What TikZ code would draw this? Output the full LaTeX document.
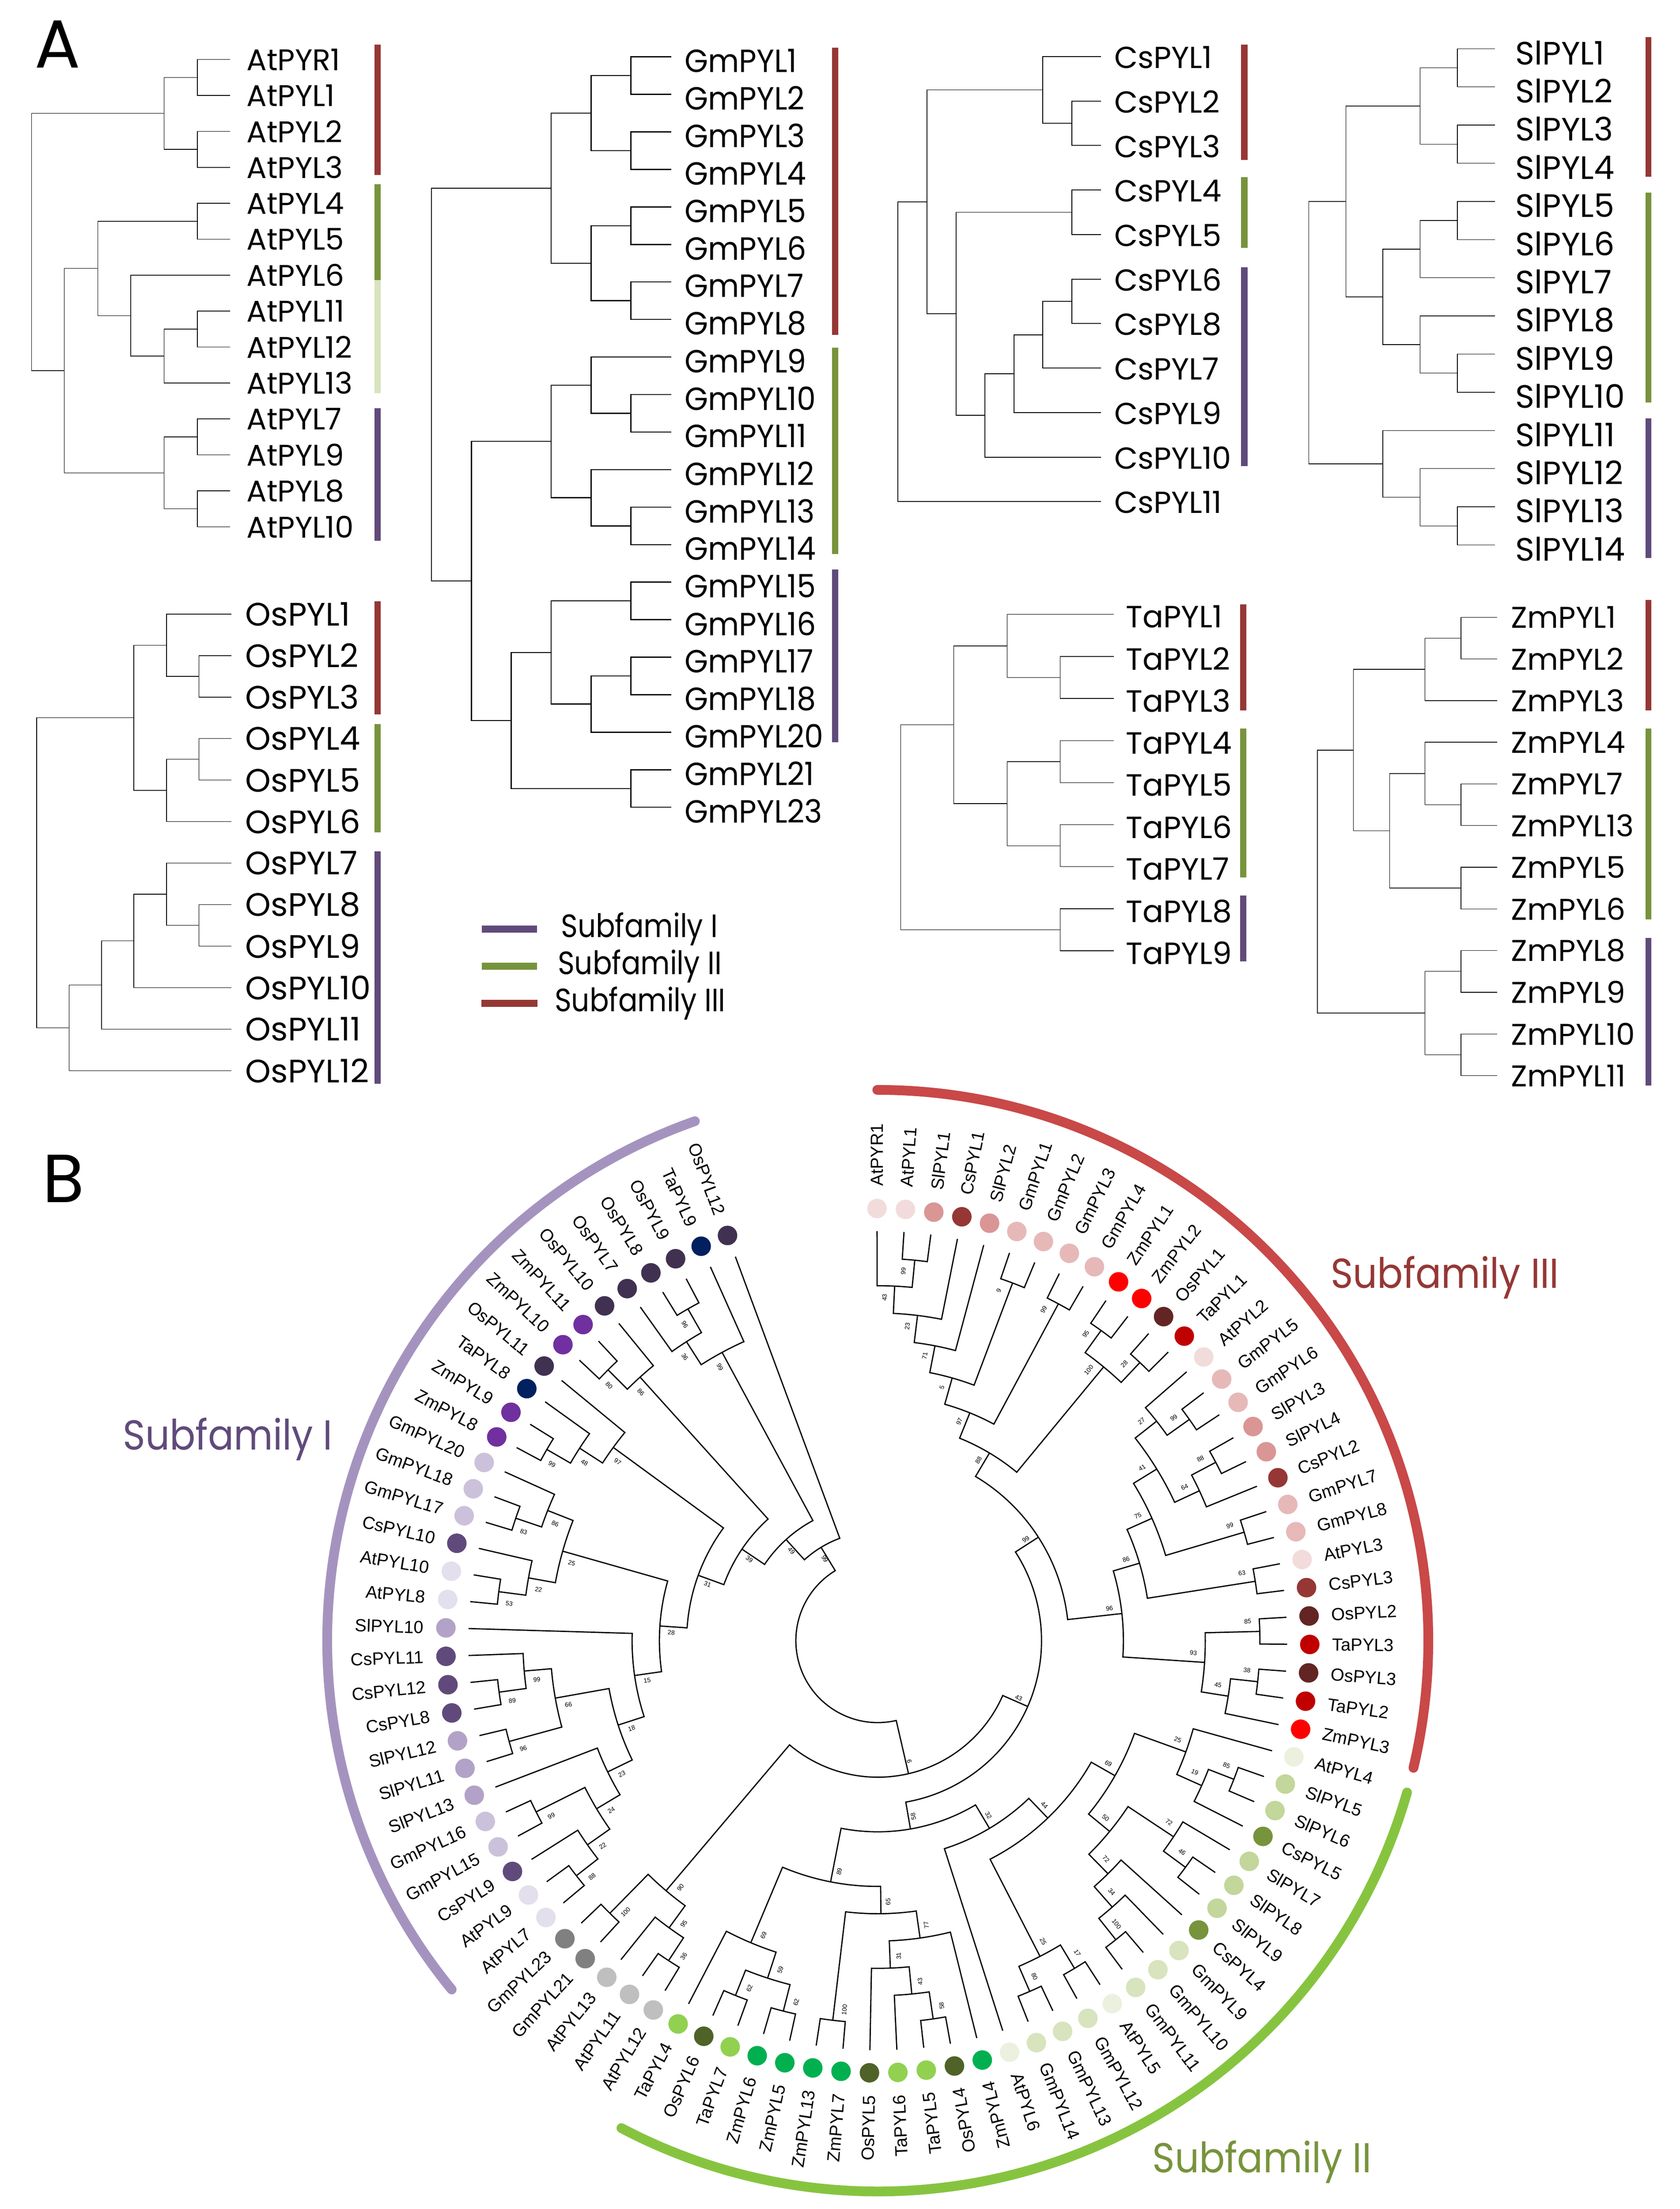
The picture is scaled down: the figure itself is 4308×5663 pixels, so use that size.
\documentclass[tikz,border=0pt]{standalone}
\usepackage{fontspec}
\setmainfont{Liberation Sans}
\newfontfamily\geo{Poppins}
\usetikzlibrary{calc}

% subfamily colours
\definecolor{sfIII}{HTML}{953735}
\definecolor{sfII}{HTML}{77933C}
\definecolor{sfIIb}{HTML}{D7E4BD}
\definecolor{sfI}{HTML}{604A7B}
\definecolor{arcIII}{HTML}{C94848}
\definecolor{arcII}{HTML}{86C440}
\definecolor{arcI}{HTML}{A593BF}
% dot colours of the circular tree
\definecolor{pAt}{HTML}{F2DCDB}
\definecolor{pSl}{HTML}{D99694}
\definecolor{pCs}{HTML}{953735}
\definecolor{pGm}{HTML}{E6B9B8}
\definecolor{pZm}{HTML}{FF0000}
\definecolor{pOs}{HTML}{632523}
\definecolor{pTa}{HTML}{C00000}
\definecolor{gAt}{HTML}{EBF1DE}
\definecolor{gSl}{HTML}{C3D69B}
\definecolor{gCs}{HTML}{77933C}
\definecolor{gGm}{HTML}{D7E4BD}
\definecolor{gZm}{HTML}{00B050}
\definecolor{gOs}{HTML}{4F6228}
\definecolor{gTa}{HTML}{92D050}
\definecolor{yAt}{HTML}{BFBFBF}
\definecolor{yGm}{HTML}{808080}
\definecolor{vAt}{HTML}{E4DFEC}
\definecolor{vCs}{HTML}{604A7B}
\definecolor{vGm}{HTML}{CCC1DA}
\definecolor{vSl}{HTML}{B3A2C7}
\definecolor{vZm}{HTML}{7030A0}
\definecolor{vOs}{HTML}{403151}
\definecolor{vTa}{HTML}{002060}

\tikzset{
  branch/.style={line width=0.5pt},
  bbranch/.style={line width=0.9pt},
  albl/.style={font=\geo},
  tiplbl/.style={font=\fontsize{12.8pt}{13pt}\selectfont, inner sep=0pt},
  bslbl/.style={font=\fontsize{4.6pt}{5pt}\selectfont, inner sep=0pt},
  legtxt/.style={font=\geo\fontsize{23.6pt}{24pt}\selectfont, inner sep=0pt, anchor=base west, xscale=0.88},
  sftxt/.style={font=\geo\fontsize{30.5pt}{31pt}\selectfont, inner sep=0pt, anchor=base west, xscale=0.91},
  sfarc/.style={line width=7.1pt, line cap=round},
  panel/.style={font=\geo\fontsize{49.6pt}{50pt}\selectfont, inner sep=0pt, anchor=base west},
}

% rectangular trees (panel A)
\newcommand\leafA[2]{%
  \coordinate (#1) at (\tipx,#2);
  \node[albl, anchor=west, inner sep=0pt, yshift=-\lshift*0.01cm] (#1-l) at (\lblx,#2) {#1};}
\newcommand\clade[4]{%
  \path ($(#3)!0.5!(#4)$) coordinate (#1-m);
  \coordinate (#1) at (#2,0 |- #1-m);
  \draw[branch] (#3) -| (#1) |- (#4);}
\newcommand\sfbar[5]{\fill[#5] (#1,#3) rectangle (#2,#4);}

% circular tree (panel B)
\newcommand\tipB[3]{%
  \pgfmathsetmacro\bAng{90.1-3.775*#1}%
  \expandafter\xdef\csname ang@L#1\endcsname{\bAng}%
  \coordinate (L#1) at (\bAng:1050);
  \fill[#3] (\bAng:1108) circle[radius=25];
  \ifnum#1<44
    \node[tiplbl, anchor=west, rotate=\bAng] (L#1-l) at (\bAng:1165) {#2};
  \else
    \node[tiplbl, anchor=east, rotate=\bAng+180] (L#1-l) at (\bAng:1165) {#2};
  \fi}
\newcommand\joinB[5]{%
  \pgfmathsetmacro\bAngA{\csname ang@#3\endcsname}%
  \pgfmathsetmacro\bAngB{\csname ang@#4\endcsname}%
  \pgfmathsetmacro\bRad{1050-70*#2}%
  \pgfmathsetmacro\bAng{(\bAngA+\bAngB)/2}%
  \expandafter\xdef\csname ang@#1\endcsname{\bAng}%
  \coordinate (#1) at (\bAng:\bRad);
  \draw[bbranch] (#3) -- (\bAngA:\bRad) arc[start angle=\bAngA, end angle=\bAngB, radius=\bRad] -- (#4);
  \ifx\relax#5\relax\else
    \pgfmathsetmacro\bLa{\bAng+1.6}%
    \pgfmathsetmacro\bLr{\bRad-30}%
    \pgfmathtruncatemacro\bSide{(\bAng>-74)&&(\bAng<90.5)}%
    \ifnum\bSide=1
      \node[bslbl, rotate=\bAng] at (\bLa:\bLr) {#5};
    \else
      \node[bslbl, rotate=\bAng+180] at (\bLa:\bLr) {#5};
    \fi
  \fi}

\begin{document}
\begin{tikzpicture}[x=0.01cm, y=-0.01cm]
\useasboundingbox (0,0) rectangle (4308,5663);
\fill[white] (0,0) rectangle (4308,5663);

\node[panel] (labA) at (88,174) {A};
\node[panel] (labB) at (109,3082) {B};

% ---- At
\begin{scope}[albl/.style={font=\geo\fontsize{21.8pt}{22pt}\selectfont}, branch/.style={line width=0.5pt}]
\def\tipx{590}\def\lblx{632}\def\lshift{0}
\leafA{AtPYR1}{152.5}
\leafA{AtPYL1}{244.65}
\leafA{AtPYL2}{336.8}
\leafA{AtPYL3}{428.95}
\leafA{AtPYL4}{521.1}
\leafA{AtPYL5}{613.25}
\leafA{AtPYL6}{705.4}
\leafA{AtPYL11}{797.55}
\leafA{AtPYL12}{889.7}
\leafA{AtPYL13}{981.85}
\leafA{AtPYL7}{1074}
\leafA{AtPYL9}{1166.15}
\leafA{AtPYL8}{1258.3}
\leafA{AtPYL10}{1350.45}
\clade{at1}{506}{AtPYR1}{AtPYL1}
\clade{at2}{506}{AtPYL2}{AtPYL3}
\clade{at3}{421}{at1}{at2}
\clade{at4}{506}{AtPYL4}{AtPYL5}
\clade{at5}{506}{AtPYL11}{AtPYL12}
\clade{at6}{421}{at5}{AtPYL13}
\clade{at7}{335}{AtPYL6}{at6}
\clade{at8}{251}{at4}{at7}
\clade{at9}{506}{AtPYL7}{AtPYL9}
\clade{at10}{506}{AtPYL8}{AtPYL10}
\clade{at11}{421}{at9}{at10}
\clade{at12}{165}{at8}{at11}
\clade{at13}{81}{at3}{at12}
\sfbar{960}{976}{114}{449}{sfIII}
\sfbar{960}{976}{472}{718}{sfII}
\sfbar{960}{976}{718}{1008}{sfIIb}
\sfbar{960}{976}{1046}{1386}{sfI}
\end{scope}

% ---- Gm
\begin{scope}[albl/.style={font=\geo\fontsize{23.4pt}{24pt}\selectfont, xscale=0.94}, branch/.style={line width=0.8pt}]
\def\tipx{1721.7}\def\lblx{1755}\def\lshift{10}
\leafA{GmPYL1}{145.7}
\leafA{GmPYL2}{241.9}
\leafA{GmPYL3}{338.1}
\leafA{GmPYL4}{434.3}
\leafA{GmPYL5}{530.5}
\leafA{GmPYL6}{626.7}
\leafA{GmPYL7}{722.8}
\leafA{GmPYL8}{819.0}
\leafA{GmPYL9}{915.2}
\leafA{GmPYL10}{1011.4}
\leafA{GmPYL11}{1107.6}
\leafA{GmPYL12}{1203.8}
\leafA{GmPYL13}{1300.0}
\leafA{GmPYL14}{1396.2}
\leafA{GmPYL15}{1492.4}
\leafA{GmPYL16}{1588.6}
\leafA{GmPYL17}{1684.7}
\leafA{GmPYL18}{1780.9}
\leafA{GmPYL20}{1877.1}
\leafA{GmPYL21}{1973.3}
\leafA{GmPYL23}{2069.5}
\clade{gm1}{1618}{GmPYL1}{GmPYL2}
\clade{gm2}{1618}{GmPYL3}{GmPYL4}
\clade{gm3}{1516}{gm1}{gm2}
\clade{gm4}{1618}{GmPYL5}{GmPYL6}
\clade{gm5}{1618}{GmPYL7}{GmPYL8}
\clade{gm6}{1516}{gm4}{gm5}
\clade{gm7}{1413.6}{gm3}{gm6}
\clade{gm8}{1618}{GmPYL10}{GmPYL11}
\clade{gm9}{1516}{GmPYL9}{gm8}
\clade{gm10}{1618}{GmPYL13}{GmPYL14}
\clade{gm11}{1516}{GmPYL12}{gm10}
\clade{gm12}{1413.6}{gm9}{gm11}
\clade{gm13}{1618}{GmPYL15}{GmPYL16}
\clade{gm14}{1618}{GmPYL17}{GmPYL18}
\clade{gm15}{1516}{gm14}{GmPYL20}
\clade{gm16}{1413.6}{gm13}{gm15}
\clade{gm17}{1618}{GmPYL21}{GmPYL23}
\clade{gm18}{1311}{gm16}{gm17}
\clade{gm19}{1209}{gm12}{gm18}
\clade{gm20}{1106.8}{gm7}{gm19}
\sfbar{2134}{2150}{122}{859}{sfIII}
\sfbar{2134}{2150}{891}{1420}{sfII}
\sfbar{2134}{2150}{1460}{1903}{sfI}
\end{scope}

% ---- Cs
\begin{scope}[albl/.style={font=\geo\fontsize{22.2pt}{22pt}\selectfont}, branch/.style={line width=0.6pt}]
\def\tipx{2824}\def\lblx{2857}\def\lshift{2}
\leafA{CsPYL1}{144.9}
\leafA{CsPYL2}{259.0}
\leafA{CsPYL3}{373.1}
\leafA{CsPYL4}{487.2}
\leafA{CsPYL5}{601.3}
\leafA{CsPYL6}{715.4}
\leafA{CsPYL8}{829.5}
\leafA{CsPYL7}{943.6}
\leafA{CsPYL9}{1057.7}
\leafA{CsPYL10}{1171.8}
\leafA{CsPYL11}{1285.9}
\clade{cs1}{2749}{CsPYL2}{CsPYL3}
\clade{cs2}{2674.5}{CsPYL1}{cs1}
\clade{cs3}{2749}{CsPYL4}{CsPYL5}
\clade{cs4}{2749}{CsPYL6}{CsPYL8}
\clade{cs5}{2674.5}{cs4}{CsPYL7}
\clade{cs6}{2600}{cs5}{CsPYL9}
\clade{cs7}{2526}{cs6}{CsPYL10}
\clade{cs8}{2451.7}{cs3}{cs7}
\clade{cs9}{2377}{cs2}{cs8}
\clade{cs10}{2302.8}{cs9}{CsPYL11}
\sfbar{3182}{3199}{114.5}{410}{sfIII}
\sfbar{3182}{3199}{454}{635}{sfII}
\sfbar{3182}{3199}{685}{1195}{sfI}
\end{scope}

% ---- Sl
\begin{scope}[albl/.style={font=\geo\fontsize{23.6pt}{24pt}\selectfont}, branch/.style={line width=0.45pt}]
\def\tipx{3833.5}\def\lblx{3886}\def\lshift{10}
\leafA{SlPYL1}{125}
\leafA{SlPYL2}{222.85}
\leafA{SlPYL3}{320.7}
\leafA{SlPYL4}{418.55}
\leafA{SlPYL5}{516.4}
\leafA{SlPYL6}{614.25}
\leafA{SlPYL7}{712.1}
\leafA{SlPYL8}{809.95}
\leafA{SlPYL9}{907.8}
\leafA{SlPYL10}{1005.65}
\leafA{SlPYL11}{1103.5}
\leafA{SlPYL12}{1201.35}
\leafA{SlPYL13}{1299.2}
\leafA{SlPYL14}{1397.05}
\clade{sl1}{3737.5}{SlPYL1}{SlPYL2}
\clade{sl2}{3737.5}{SlPYL3}{SlPYL4}
\clade{sl3}{3642}{sl1}{sl2}
\clade{sl4}{3737.5}{SlPYL5}{SlPYL6}
\clade{sl5}{3642}{sl4}{SlPYL7}
\clade{sl6}{3737.5}{SlPYL9}{SlPYL10}
\clade{sl7}{3642}{SlPYL8}{sl6}
\clade{sl8}{3546}{sl5}{sl7}
\clade{sl9}{3451.4}{sl3}{sl8}
\clade{sl10}{3737.5}{SlPYL13}{SlPYL14}
\clade{sl11}{3642}{SlPYL12}{sl10}
\clade{sl12}{3546}{SlPYL11}{sl11}
\clade{sl13}{3356.6}{sl9}{sl12}
\sfbar{4220}{4235}{95}{453}{sfIII}
\sfbar{4220}{4235}{494}{1032}{sfII}
\sfbar{4220}{4235}{1072}{1430}{sfI}
\end{scope}

% ---- Os
\begin{scope}[albl/.style={font=\geo\fontsize{23.7pt}{24pt}\selectfont}, branch/.style={line width=0.45pt}]
\def\tipx{593}\def\lblx{629}\def\lshift{0}
\leafA{OsPYL1}{1574.2}
\leafA{OsPYL2}{1680.6}
\leafA{OsPYL3}{1787.0}
\leafA{OsPYL4}{1893.4}
\leafA{OsPYL5}{1999.8}
\leafA{OsPYL6}{2106.2}
\leafA{OsPYL7}{2212.6}
\leafA{OsPYL8}{2319.0}
\leafA{OsPYL9}{2425.4}
\leafA{OsPYL10}{2531.8}
\leafA{OsPYL11}{2638.2}
\leafA{OsPYL12}{2744.6}
\clade{os1}{510}{OsPYL2}{OsPYL3}
\clade{os2}{426.8}{OsPYL1}{os1}
\clade{os3}{510}{OsPYL4}{OsPYL5}
\clade{os4}{426.8}{os3}{OsPYL6}
\clade{os5}{343}{os2}{os4}
\clade{os6}{510}{OsPYL8}{OsPYL9}
\clade{os7}{426.8}{OsPYL7}{os6}
\clade{os8}{343}{os7}{OsPYL10}
\clade{os9}{260.6}{os8}{OsPYL11}
\clade{os10}{177}{os9}{OsPYL12}
\clade{os11}{93.8}{os5}{os10}
\sfbar{960}{976}{1542}{1831}{sfIII}
\sfbar{960}{976}{1856}{2134}{sfII}
\sfbar{960}{976}{2183}{2778}{sfI}
\end{scope}

% ---- Ta
\begin{scope}[albl/.style={font=\geo\fontsize{22.4pt}{22pt}\selectfont}, branch/.style={line width=0.45pt}]
\def\tipx{2856}\def\lblx{2887}\def\lshift{6}
\leafA{TaPYL1}{1575.1}
\leafA{TaPYL2}{1682.9}
\leafA{TaPYL3}{1790.7}
\leafA{TaPYL4}{1898.5}
\leafA{TaPYL5}{2006.3}
\leafA{TaPYL6}{2114.1}
\leafA{TaPYL7}{2221.9}
\leafA{TaPYL8}{2329.7}
\leafA{TaPYL9}{2437.5}
\clade{ta1}{2719}{TaPYL2}{TaPYL3}
\clade{ta2}{2583}{TaPYL1}{ta1}
\clade{ta3}{2719}{TaPYL4}{TaPYL5}
\clade{ta4}{2719}{TaPYL6}{TaPYL7}
\clade{ta5}{2583}{ta3}{ta4}
\clade{ta6}{2446}{ta2}{ta5}
\clade{ta7}{2719}{TaPYL8}{TaPYL9}
\clade{ta8}{2310}{ta6}{ta7}
\sfbar{3180}{3196}{1549}{1821}{sfIII}
\sfbar{3180}{3196}{1868}{2249}{sfII}
\sfbar{3180}{3196}{2296}{2465}{sfI}
\end{scope}

% ---- Zm
\begin{scope}[albl/.style={font=\geo\fontsize{21.9pt}{22pt}\selectfont}, branch/.style={line width=0.45pt}]
\def\tipx{3839}\def\lblx{3875}\def\lshift{0}
\leafA{ZmPYL1}{1582.5}
\leafA{ZmPYL2}{1689.3}
\leafA{ZmPYL3}{1796.1}
\leafA{ZmPYL4}{1902.9}
\leafA{ZmPYL7}{2009.7}
\leafA{ZmPYL13}{2116.5}
\leafA{ZmPYL5}{2223.3}
\leafA{ZmPYL6}{2330.1}
\leafA{ZmPYL8}{2436.9}
\leafA{ZmPYL9}{2543.7}
\leafA{ZmPYL10}{2650.5}
\leafA{ZmPYL11}{2757.3}
\clade{zm1}{3746.7}{ZmPYL1}{ZmPYL2}
\clade{zm2}{3654.6}{zm1}{ZmPYL3}
\clade{zm3}{3746.7}{ZmPYL7}{ZmPYL13}
\clade{zm4}{3654.6}{ZmPYL4}{zm3}
\clade{zm5}{3746.7}{ZmPYL5}{ZmPYL6}
\clade{zm6}{3563.6}{zm4}{zm5}
\clade{zm7}{3470.8}{zm2}{zm6}
\clade{zm8}{3746.7}{ZmPYL8}{ZmPYL9}
\clade{zm9}{3746.7}{ZmPYL10}{ZmPYL11}
\clade{zm10}{3654.6}{zm8}{zm9}
\clade{zm11}{3378.7}{zm7}{zm10}
\sfbar{4220}{4235}{1538}{1821}{sfIII}
\sfbar{4220}{4235}{1868}{2357}{sfII}
\sfbar{4220}{4235}{2404}{2783}{sfI}
\end{scope}

% ---- legend
\fill[sfI] (1236,2373) rectangle (1377,2391);
\fill[sfII] (1236,2468) rectangle (1377,2486);
\fill[sfIII] (1235,2563) rectangle (1378,2581);
\node[legtxt] (leg1) at (1438,2403) {Subfamily I};
\node[legtxt] (leg2) at (1430,2498) {Subfamily II};
\node[legtxt] (leg3) at (1422,2593) {Subfamily III};

% ---- circular tree
\begin{scope}[shift={(2251,4206)}, yscale=-1]
\draw[sfarc, arcIII] (90.05:1412) arc[start angle=90.05, end angle=-13.35, radius=1412];
\draw[sfarc, arcII] (-16:1412) arc[start angle=-16, end angle=-117.75, radius=1412];
\draw[sfarc, arcI] (219.3:1412) arc[start angle=219.3, end angle=109.4, radius=1412];

\tipB{0}{AtPYR1}{pAt}
\tipB{1}{AtPYL1}{pAt}
\tipB{2}{SlPYL1}{pSl}
\tipB{3}{CsPYL1}{pCs}
\tipB{4}{SlPYL2}{pSl}
\tipB{5}{GmPYL1}{pGm}
\tipB{6}{GmPYL2}{pGm}
\tipB{7}{GmPYL3}{pGm}
\tipB{8}{GmPYL4}{pGm}
\tipB{9}{ZmPYL1}{pZm}
\tipB{10}{ZmPYL2}{pZm}
\tipB{11}{OsPYL1}{pOs}
\tipB{12}{TaPYL1}{pTa}
\tipB{13}{AtPYL2}{pAt}
\tipB{14}{GmPYL5}{pGm}
\tipB{15}{GmPYL6}{pGm}
\tipB{16}{SlPYL3}{pSl}
\tipB{17}{SlPYL4}{pSl}
\tipB{18}{CsPYL2}{pCs}
\tipB{19}{GmPYL7}{pGm}
\tipB{20}{GmPYL8}{pGm}
\tipB{21}{AtPYL3}{pAt}
\tipB{22}{CsPYL3}{pCs}
\tipB{23}{OsPYL2}{pOs}
\tipB{24}{TaPYL3}{pTa}
\tipB{25}{OsPYL3}{pOs}
\tipB{26}{TaPYL2}{pTa}
\tipB{27}{ZmPYL3}{pZm}
\tipB{28}{AtPYL4}{gAt}
\tipB{29}{SlPYL5}{gSl}
\tipB{30}{SlPYL6}{gSl}
\tipB{31}{CsPYL5}{gCs}
\tipB{32}{SlPYL7}{gSl}
\tipB{33}{SlPYL8}{gSl}
\tipB{34}{SlPYL9}{gSl}
\tipB{35}{CsPYL4}{gCs}
\tipB{36}{GmPYL9}{gGm}
\tipB{37}{GmPYL10}{gGm}
\tipB{38}{GmPYL11}{gGm}
\tipB{39}{AtPYL5}{gAt}
\tipB{40}{GmPYL12}{gGm}
\tipB{41}{GmPYL13}{gGm}
\tipB{42}{GmPYL14}{gGm}
\tipB{43}{AtPYL6}{gAt}
\tipB{44}{ZmPYL4}{gZm}
\tipB{45}{OsPYL4}{gOs}
\tipB{46}{TaPYL5}{gTa}
\tipB{47}{TaPYL6}{gTa}
\tipB{48}{OsPYL5}{gOs}
\tipB{49}{ZmPYL7}{gZm}
\tipB{50}{ZmPYL13}{gZm}
\tipB{51}{ZmPYL5}{gZm}
\tipB{52}{ZmPYL6}{gZm}
\tipB{53}{TaPYL7}{gTa}
\tipB{54}{OsPYL6}{gOs}
\tipB{55}{TaPYL4}{gTa}
\tipB{56}{AtPYL12}{yAt}
\tipB{57}{AtPYL11}{yAt}
\tipB{58}{AtPYL13}{yAt}
\tipB{59}{GmPYL21}{yGm}
\tipB{60}{GmPYL23}{yGm}
\tipB{61}{AtPYL7}{vAt}
\tipB{62}{AtPYL9}{vAt}
\tipB{63}{CsPYL9}{vCs}
\tipB{64}{GmPYL15}{vGm}
\tipB{65}{GmPYL16}{vGm}
\tipB{66}{SlPYL13}{vSl}
\tipB{67}{SlPYL11}{vSl}
\tipB{68}{SlPYL12}{vSl}
\tipB{69}{CsPYL8}{vCs}
\tipB{70}{CsPYL12}{vCs}
\tipB{71}{CsPYL11}{vCs}
\tipB{72}{SlPYL10}{vSl}
\tipB{73}{AtPYL8}{vAt}
\tipB{74}{AtPYL10}{vAt}
\tipB{75}{CsPYL10}{vCs}
\tipB{76}{GmPYL17}{vGm}
\tipB{77}{GmPYL18}{vGm}
\tipB{78}{GmPYL20}{vGm}
\tipB{79}{ZmPYL8}{vZm}
\tipB{80}{ZmPYL9}{vZm}
\tipB{81}{TaPYL8}{vTa}
\tipB{82}{OsPYL11}{vOs}
\tipB{83}{ZmPYL10}{vZm}
\tipB{84}{ZmPYL11}{vZm}
\tipB{85}{OsPYL10}{vOs}
\tipB{86}{OsPYL7}{vOs}
\tipB{87}{OsPYL8}{vOs}
\tipB{88}{OsPYL9}{vOs}
\tipB{89}{TaPYL9}{vTa}
\tipB{90}{OsPYL12}{vOs}

% subfamily III
\joinB{Ba1}{1}{L1}{L2}{99}
\joinB{Ba2}{2}{L0}{Ba1}{43}
\joinB{Ba3}{3}{Ba2}{L3}{23}
\joinB{Ba4}{4}{Ba3}{L4}{71}
\joinB{Ba5}{1}{L5}{L6}{9}
\joinB{Ba6}{5}{Ba4}{Ba5}{5}
\joinB{Ba7}{1}{L7}{L8}{99}
\joinB{Ba8}{6}{Ba6}{Ba7}{97}
\joinB{Ba9}{1}{L9}{L10}{95}
\joinB{Ba10}{1}{L11}{L12}{28}
\joinB{Ba11}{2}{Ba9}{Ba10}{100}
\joinB{Ba12}{7}{Ba8}{Ba11}{88}
\joinB{Bb1}{1}{L14}{L15}{99}
\joinB{Bb2}{2}{L13}{Bb1}{27}
\joinB{Bb3}{1}{L16}{L17}{88}
\joinB{Bb4}{2}{Bb3}{L18}{64}
\joinB{Bb5}{3}{Bb2}{Bb4}{41}
\joinB{Bb6}{1}{L19}{L20}{99}
\joinB{Bb7}{4}{Bb5}{Bb6}{75}
\joinB{Bb8}{1}{L21}{L22}{63}
\joinB{Bb9}{5}{Bb7}{Bb8}{86}
\joinB{Bc1}{1}{L23}{L24}{85}
\joinB{Bc2}{1}{L25}{L26}{38}
\joinB{Bc3}{2}{Bc2}{L27}{45}
\joinB{Bc4}{3}{Bc1}{Bc3}{93}
\joinB{Bb10}{6}{Bb9}{Bc4}{96}
\joinB{BIII}{8}{Ba12}{Bb10}{99}
% subfamily II
\joinB{Be1}{1}{L29}{L30}{85}
\joinB{Be2}{2}{Be1}{L31}{19}
\joinB{Be3}{3}{L28}{Be2}{25}
\joinB{Bf1}{1}{L33}{L34}{46}
\joinB{Bf2}{2}{L32}{Bf1}{72}
\joinB{Bg1}{1}{L37}{L38}{100}
\joinB{Bg2}{2}{L36}{Bg1}{34}
\joinB{Bg3}{3}{L35}{Bg2}{72}
\joinB{Bg4}{4}{Bf2}{Bg3}{50}
\joinB{Be5}{5}{Be3}{Bg4}{69}
\joinB{Bj1}{1}{L39}{L40}{17}
\joinB{Bj2}{1}{L41}{L42}{80}
\joinB{Bj3}{2}{Bj1}{Bj2}{25}
\joinB{Bk6}{6}{Be5}{Bj3}{44}
\joinB{Bk7}{7}{Bk6}{L43}{32}
\joinB{Bm1}{1}{L45}{L46}{58}
\joinB{Bm2}{2}{Bm1}{L47}{43}
\joinB{Bm3}{3}{Bm2}{L48}{31}
\joinB{Bm4}{4}{L44}{Bm3}{77}
\joinB{Bn1}{1}{L49}{L50}{100}
\joinB{Bm5}{5}{Bm4}{Bn1}{65}
\joinB{Bt1}{1}{L51}{L52}{62}
\joinB{Bt2}{1}{L53}{L54}{62}
\joinB{Bt3}{2}{Bt1}{Bt2}{59}
\joinB{Bt4}{3}{Bt3}{L55}{69}
\joinB{Bz6}{6}{Bm5}{Bt4}{89}
\joinB{BII}{8}{Bk7}{Bz6}{58}
\joinB{BY}{9}{BIII}{BII}{43}
% AtPYL11-13, GmPYL21/23
\joinB{Bu1}{1}{L56}{L57}{36}
\joinB{Bu2}{2}{Bu1}{L58}{95}
\joinB{Bu3}{1}{L59}{L60}{100}
\joinB{Bu4}{3}{Bu2}{Bu3}{90}
\joinB{BN10}{10}{Bu4}{BY}{9}
% subfamily I
\joinB{Bs1}{1}{L61}{L62}{88}
\joinB{Bs2}{2}{L63}{Bs1}{22}
\joinB{Bs3}{1}{L64}{L65}{99}
\joinB{Bs4}{3}{Bs3}{Bs2}{24}
\joinB{Bs5}{4}{L66}{Bs4}{23}
\joinB{Bv1}{1}{L69}{L70}{89}
\joinB{Bv2}{2}{L71}{Bv1}{99}
\joinB{Bv3}{1}{L67}{L68}{96}
\joinB{Bv4}{3}{Bv2}{Bv3}{66}
\joinB{Bq2}{5}{Bv4}{Bs5}{18}
\joinB{Bq}{6}{L72}{Bq2}{15}
\joinB{Bw1}{1}{L73}{L74}{53}
\joinB{Bw2}{2}{L75}{Bw1}{22}
\joinB{Bw3}{1}{L76}{L77}{83}
\joinB{Bw4}{2}{Bw3}{L78}{86}
\joinB{Bp3}{3}{Bw2}{Bw4}{25}
\joinB{BV2b}{7}{Bp3}{Bq}{28}
\joinB{Bx1}{1}{L79}{L80}{99}
\joinB{Bx2}{2}{Bx1}{L81}{48}
\joinB{Bx3}{3}{Bx2}{L82}{97}
\joinB{BV2}{8}{Bx3}{BV2b}{31}
\joinB{By1}{1}{L83}{L84}{80}
\joinB{By2}{2}{By1}{L85}{86}
\joinB{BV}{9}{By2}{BV2}{39}
\joinB{Bo1}{1}{L87}{L88}{96}
\joinB{Bo2}{2}{L86}{Bo1}{36}
\joinB{Bo3}{3}{Bo2}{L89}{99}
\joinB{BX}{10}{Bo3}{BV}{49}
\joinB{BI}{11}{BX}{L90}{99}
\joinB{Broot}{12}{BN10}{BI}{}
\end{scope}

\node[sftxt, text=sfIII] (sf3) at (3412,3302) {Subfamily III};
\node[sftxt, text=sfI] (sf1) at (315,3717) {Subfamily I};
\node[sftxt, text=sfII] (sf2) at (2955,5570) {Subfamily II};
\end{tikzpicture}
\end{document}
